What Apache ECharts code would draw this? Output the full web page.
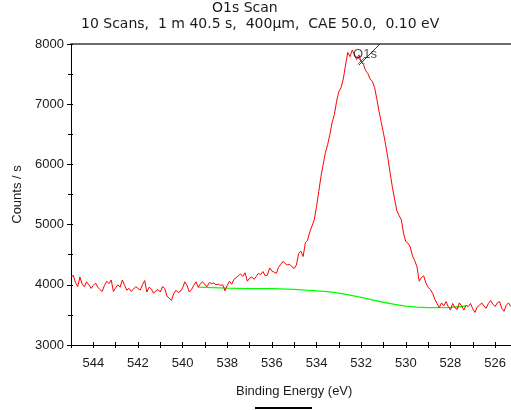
<!DOCTYPE html>
<html>
<head>
<meta charset="utf-8">
<script src="https://cdn.jsdelivr.net/npm/echarts@6/dist/echarts.min.js"></script>
<style>
  html, body { margin: 0; padding: 0; background: #fff; }
  #chart { width: 511px; height: 410px; }
</style>
</head>
<body>
<div id="chart"></div>
<script>
// O1s region scan: counts per second sampled every 0.10 eV starting at 545.0 eV
const scanStart = 545.0;
const scanStep = 0.1;
const counts = [
  4120,4160,4040,3970,4130,4010,3970,4050,4000,3940,
  3990,4030,3960,3920,3890,3990,4060,4020,4080,3890,
  3950,4000,3960,4080,3990,3910,3940,3890,3930,3970,
  3940,3910,4000,4070,3880,3960,3930,3860,3900,3920,
  3880,3970,3940,3810,3780,3740,3850,3910,3870,3890,
  3950,4050,3990,3880,3920,3990,4050,3960,4020,4050,
  4000,3970,4040,4020,4030,4000,4010,3990,4000,3900,
  3990,4060,4010,4090,4120,4150,4180,4140,4200,4060,
  4110,4130,4090,4140,4190,4170,4220,4150,4160,4280,
  4230,4210,4190,4290,4340,4390,4350,4330,4340,4300,
  4270,4330,4520,4560,4470,4700,4740,4880,4980,5080,
  5300,5550,5800,6000,6200,6330,6500,6700,6830,7050,
  7210,7280,7420,7650,7860,7790,7900,7820,7740,7820,
  7700,7660,7560,7510,7420,7380,7280,7090,6880,6700,
  6520,6320,6100,5850,5620,5420,5230,5150,5080,4850,
  4720,4690,4630,4480,4400,4300,4060,4120,4150,4030,
  3960,3920,3860,3760,3690,3620,3700,3650,3720,3640,
  3580,3690,3620,3590,3700,3650,3580,3660,3640,3690,
  3600,3540,3630,3660,3700,3650,3610,3690,3740,3680,
  3640,3700,3720,3610,3560,3660,3700,3640
];

// Background (Shirley-type) under the O1s peak
const bgEnergy = [539.3, 538.0, 537.0, 536.0, 535.0, 534.5, 534.0, 533.5, 533.0, 532.5, 532.0, 531.5, 531.0, 530.5, 530.0, 529.5, 529.0, 528.5, 528.0, 527.6, 527.3];
const bgCounts = [3960, 3945, 3935, 3935, 3925, 3910, 3900, 3885, 3860, 3830, 3790, 3750, 3710, 3675, 3645, 3628, 3620, 3620, 3625, 3635, 3648];

// Peak marker: cross, leader line and name
const peakName = 'O1s';
const peakCross = [532.0, 7720];
const peakLeaderE = [532.1, 531.16];
const peakLeaderC = [7650, 8000];
const peakLabelPos = [531.83, 7830];

// Axes
const xMin = 525, xMax = 545;
const yMin = 3000, yMax = 8000;
const titleLine1 = 'O1s Scan';
const titleLine2 = '10 Scans,  1 m 40.5 s,  400µm,  CAE 50.0,  0.10 eV';
const xName = 'Binding Energy (eV)';
const yName = 'Counts / s';

const spectrum = counts.map((c, i) => [+(scanStart - i * scanStep).toFixed(2), c]);
const background = bgEnergy.map((e, i) => [e, bgCounts[i]]);
const leader = peakLeaderE.map((e, i) => [e, peakLeaderC[i]]);

const FONT = 'Liberation Sans, Arial, sans-serif';
const TITLE_FONT = 'DejaVu Sans, sans-serif';
const TXT = '#1a1a1a';

const chart = echarts.init(document.getElementById('chart'), null, { renderer: 'canvas' });
chart.setOption({
  animation: false,
  backgroundColor: '#ffffff',
  title: [
    { text: titleLine1, left: 212, top: 1, padding: 0, textStyle: { fontFamily: TITLE_FONT, fontSize: 14, fontWeight: 'normal', color: TXT } },
    { text: titleLine2, left: 81, top: 17, padding: 0, textStyle: { fontFamily: TITLE_FONT, fontSize: 14, fontWeight: 'normal', color: TXT } }
  ],
  grid: { left: 71, top: 44, width: 446.4, height: 301, containLabel: false, outerBoundsMode: 'none' },
  xAxis: [
    {
      type: 'value', min: xMin, max: xMax, interval: 1, inverse: true,
      position: 'bottom',
      axisLine: { onZero: false, lineStyle: { color: '#000', width: 1 } },
      axisTick: { show: true, length: 3, lineStyle: { color: '#000' } },
      axisLabel: {
        margin: 12, fontFamily: FONT, fontSize: 13, color: TXT,
        formatter: v => (Math.round(v) % 2 === 0 && v !== xMin && v !== xMax) ? String(v) : ''
      },
      splitLine: { show: false },
      name: xName, nameLocation: 'middle', nameGap: 40,
      nameTextStyle: { fontFamily: FONT, fontSize: 13, color: TXT }
    },
    {
      type: 'value', min: xMin, max: xMax, interval: 1, inverse: true,
      position: 'bottom',
      axisLine: { show: false },
      axisTick: { show: true, inside: true, length: 3, lineStyle: { color: '#000' } },
      axisLabel: { show: false },
      splitLine: { show: false }
    },
    {
      type: 'value', min: xMin, max: xMax, inverse: true,
      position: 'top',
      axisLine: { show: true, lineStyle: { color: '#6a6a6a', width: 2 } },
      axisTick: { show: false }, axisLabel: { show: false }, splitLine: { show: false }
    }
  ],
  yAxis: [
    {
      type: 'value', min: yMin, max: yMax, interval: 1000,
      axisLine: { show: true, lineStyle: { color: '#000', width: 1 } },
      axisTick: { show: true, length: 4, lineStyle: { color: '#000' } },
      minorTick: { show: true, splitNumber: 2, length: 3, lineStyle: { color: '#000' } },
      axisLabel: { margin: 7, fontFamily: FONT, fontSize: 13, color: TXT, formatter: v => String(v) },
      splitLine: { show: false },
      name: yName, nameLocation: 'middle', nameGap: 46, nameRotate: 90,
      nameTextStyle: { fontFamily: FONT, fontSize: 13, color: TXT }
    },
    {
      type: 'value', min: yMin, max: yMax, interval: 500, position: 'left',
      axisLine: { show: false },
      axisTick: { show: true, inside: true, length: 2, lineStyle: { color: '#000' } },
      axisLabel: { show: false }, splitLine: { show: false }
    }
  ],
  series: [
    {
      name: 'Background', type: 'line', data: background, showSymbol: false,
      lineStyle: { color: '#00ff00', width: 1.3 }, z: 2
    },
    {
      name: 'O1s', type: 'line', data: spectrum, showSymbol: false,
      lineStyle: { color: '#ff0000', width: 1 }, z: 3
    },
    {
      name: 'Leader', type: 'line', data: leader, showSymbol: false,
      lineStyle: { color: '#333', width: 1 }, z: 4
    },
    {
      name: 'Cross', type: 'scatter', data: [peakCross],
      symbol: 'path://M0,0L10,10M10,0L0,10', symbolSize: 7,
      itemStyle: { color: 'none', borderColor: '#444', borderWidth: 1 }, z: 4
    },
    {
      name: 'PeakName', type: 'scatter', data: [peakLabelPos], symbolSize: 0,
      label: {
        show: true, position: 'inside', formatter: peakName,
        fontFamily: FONT, fontSize: 13, color: TXT
      }, z: 5
    }
  ],
  graphic: [
    { type: 'rect', shape: { x: 255, y: 407, width: 57, height: 2 }, style: { fill: '#000' } }
  ]
});
</script>
</body>
</html>
